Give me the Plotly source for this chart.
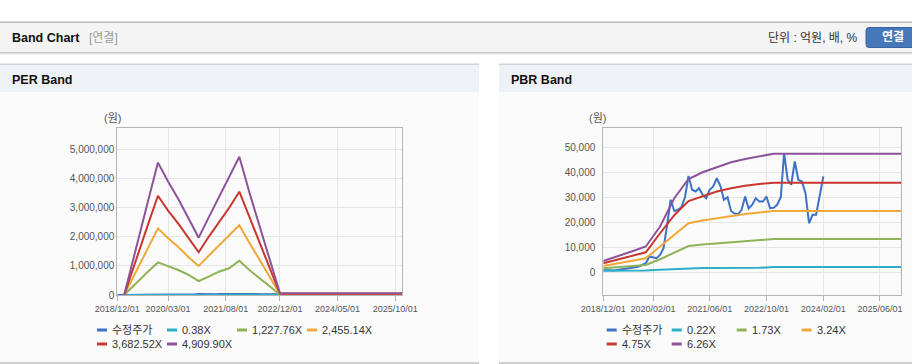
import pandas as pd
import plotly.graph_objects as go

# ---------------- data ----------------
# adjusted share price (수정주가), monthly from 2018/12 to 2024/02
price = [800, 900, 800, 700, 900, 1000, 1200, 1500, 1800, 2000, 2300, 2800,
         3600, 6300, 5900, 5600, 6900, 9600, 19000, 29000, 24500, 25000, 26000, 30000,
         38500, 33000, 32300, 33600, 31000, 29600, 33000, 34300, 37600, 34500, 29000, 30000,
         24500, 23500, 23200, 25000, 30300, 25500, 27000, 29600, 28300, 28300, 30300, 25600,
         25800, 27000, 30000, 47600, 37000, 35000, 44300, 37000, 36300, 31600, 19600, 23000,
         23000, 30300, 38300]
price_start = "2018-12-01"

# PER band
per_dates = ["2019-02-01", "2019-06-01", "2019-09-01", "2019-12-01", "2020-03-01", "2020-06-01",
             "2020-09-01", "2020-12-01", "2021-03-01", "2021-06-01", "2021-09-01", "2021-12-01",
             "2022-03-01", "2022-06-01", "2022-09-01", "2022-12-01", "2025-12-01"]
per_names = ["수정주가", "0.38X", "1,227.76X", "2,455.14X", "3,682.52X", "4,909.90X"]
per_b1 = [0, 145, 250, 350, 300, 255, 205, 150, 205, 260, 315, 365, 270, 185, 95, 5, 5]
per_b2 = [0, 460000, 800000, 1120000, 1000000, 860000, 690000, 480000, 630000, 800000, 920000,
          1180000, 860000, 570000, 310000, 14000, 14000]
per_b3 = [0, 920000, 1600000, 2290000, 1950000, 1650000, 1300000, 1000000, 1350000, 1700000,
          2050000, 2400000, 1800000, 1200000, 600000, 29000, 29000]
per_b4 = [0, 1400000, 2400000, 3410000, 2900000, 2450000, 1950000, 1470000, 2000000, 2500000,
          3000000, 3550000, 2700000, 1800000, 900000, 43000, 43000]
per_b5 = [0, 1850000, 3200000, 4550000, 3900000, 3300000, 2630000, 1970000, 2670000, 3370000,
          4090000, 4750000, 3530000, 2380000, 1200000, 57000, 57000]

# PBR band
pbr_dates = ["2018-12-01", "2019-04-01", "2019-08-01", "2019-12-01", "2020-04-01", "2020-08-01",
             "2020-12-01", "2021-04-01", "2021-08-01", "2021-12-01", "2022-04-01", "2022-08-01",
             "2022-12-01", "2025-12-01"]
pbr_names = ["수정주가", "0.22X", "1.73X", "3.24X", "4.75X", "6.26X"]
pbr_b1 = [600, 600, 600, 700, 1000, 1300, 1600, 1650, 1700, 1700, 1700, 1750, 2100, 2100]
pbr_b2 = [1600, 2000, 2500, 2900, 5200, 7900, 10500, 11100, 11600, 12100, 12500, 12900, 13300, 13300]
pbr_b3 = [2500, 3500, 4500, 5600, 10300, 15000, 19600, 20700, 21600, 22600, 23300, 23900, 24500, 24500]
pbr_b4 = [3600, 5000, 6500, 8000, 15600, 22800, 28500, 30500, 32300, 33600, 34600, 35300, 35800, 35800]
pbr_b5 = [4500, 6300, 8300, 10300, 18300, 29600, 37300, 40000, 41900, 44000, 45300, 46300, 47400, 47400]

per_tickvals = ["2018-12-01", "2020-03-01", "2021-08-01", "2022-12-01", "2024-05-01", "2025-10-01"]
per_ticktext = ["2018/12/01", "2020/03/01", "2021/08/01", "2022/12/01", "2024/05/01", "2025/10/01"]
pbr_tickvals = ["2018-12-01", "2020-02-01", "2021-06-01", "2022-10-01", "2024-02-01", "2025-06-01"]
pbr_ticktext = ["2018/12/01", "2020/02/01", "2021/06/01", "2022/10/01", "2024/02/01", "2025/06/01"]

colors = ["#3b73c6", "#2eaec5", "#8fb356", "#f1a83a", "#c8372d", "#8c539b"]

# ---------------- figure ----------------
W, H = 912, 364
def X(px):
    return px / W
def Y(py):
    return 1 - py / H

FONT = "Liberation Sans, 'Noto Sans CJK KR', sans-serif"
price_dates = pd.date_range(price_start, periods=len(price), freq="MS")

fig = go.Figure()

per_bands = [per_b1, per_b2, per_b3, per_b4, per_b5]
pbr_bands = [pbr_b1, pbr_b2, pbr_b3, pbr_b4, pbr_b5]

fig.add_trace(go.Scatter(x=price_dates, y=price, mode="lines", name=per_names[0],
                         line=dict(color=colors[0], width=2), xaxis="x", yaxis="y", showlegend=False))
for i, b in enumerate(per_bands):
    fig.add_trace(go.Scatter(x=per_dates, y=b, mode="lines", name=per_names[i + 1],
                             line=dict(color=colors[i + 1], width=2), xaxis="x", yaxis="y",
                             showlegend=False))

fig.add_trace(go.Scatter(x=price_dates, y=price, mode="lines", name=pbr_names[0],
                         line=dict(color=colors[0], width=2), xaxis="x2", yaxis="y2", showlegend=False))
for i, b in enumerate(pbr_bands):
    fig.add_trace(go.Scatter(x=pbr_dates, y=b, mode="lines", name=pbr_names[i + 1],
                             line=dict(color=colors[i + 1], width=2), xaxis="x2", yaxis="y2",
                             showlegend=False))

axis_common = dict(showline=True, mirror=True, linecolor="#b4b4b4", linewidth=1,
                   showgrid=True, gridcolor="#e6e6e6", zeroline=False, automargin=False)

xcommon = dict(axis_common, type="date", range=["2018-12-01", "2025-12-01"],
               ticks="outside", ticklen=5, tickcolor="#b4b4b4",
               tickfont=dict(family=FONT, size=9, color="#555"))
ycommon = dict(axis_common, tickformat=",d", tickfont=dict(family=FONT, size=10, color="#555"))

fig.update_layout(
    width=W, height=H, autosize=False,
    margin=dict(l=0, r=0, t=0, b=0, pad=0, autoexpand=False),
    paper_bgcolor="white",
    plot_bgcolor="rgba(0,0,0,0)",
    showlegend=False,
    font=dict(family=FONT, color="#333"),
    xaxis=dict(xcommon, domain=[X(117.3), X(402)], tickvals=per_tickvals, ticktext=per_ticktext,
               anchor="y"),
    yaxis=dict(ycommon, domain=[Y(295), Y(128)], range=[0, 5740000],
               tickvals=[0, 1000000, 2000000, 3000000, 4000000, 5000000], anchor="x"),
    xaxis2=dict(xcommon, domain=[X(603.3), X(901.3)], tickvals=pbr_tickvals, ticktext=pbr_ticktext,
                anchor="y2"),
    yaxis2=dict(ycommon, domain=[Y(295), Y(128)], range=[-9100, 57700],
                tickvals=[0, 10000, 20000, 30000, 40000, 50000], anchor="x2", ticklabelstandoff=5),
)

shapes = []
def rect(x0, x1, y0, y1, color):
    shapes.append(dict(type="rect", xref="paper", yref="paper", x0=X(x0), x1=X(x1),
                       y0=Y(y1), y1=Y(y0), fillcolor=color, line=dict(width=0), layer="below"))

# header bar
rect(0, 912, 21.5, 23, "#b9b9b9")
rect(0, 912, 23, 52, "#f4f4f4")
rect(0, 912, 52, 53, "#c6c6c6")
rect(0, 912, 53, 54.5, "#e3e3e3")
# panels
for (a, b) in [(0, 479), (499, 912)]:
    rect(a, b, 63.5, 65, "#d4d4d4")
    rect(a, b, 65, 92.5, "#eef1f6")
    rect(a, b, 92.5, 362, "#fbfbfb")
    rect(a, b, 362, 364, "#cfcfcf")

# button (rounded)
bx0, bx1, by0, by1, r = 866, 918, 27.5, 47.5, 3
path = (f"M {X(bx0 + r)},{Y(by0)} L {X(bx1 - r)},{Y(by0)} Q {X(bx1)},{Y(by0)} {X(bx1)},{Y(by0 + r)} "
        f"L {X(bx1)},{Y(by1 - r)} Q {X(bx1)},{Y(by1)} {X(bx1 - r)},{Y(by1)} "
        f"L {X(bx0 + r)},{Y(by1)} Q {X(bx0)},{Y(by1)} {X(bx0)},{Y(by1 - r)} "
        f"L {X(bx0)},{Y(by0 + r)} Q {X(bx0)},{Y(by0)} {X(bx0 + r)},{Y(by0)} Z")
shapes.append(dict(type="path", xref="paper", yref="paper", path=path, fillcolor="#4678b9",
                   line=dict(color="#3865a3", width=1), layer="above"))

annotations = []
def text(x, y, s, size=12, color="#333", bold=False, xanchor="left"):
    if bold:
        s = f"<b>{s}</b>"
    annotations.append(dict(x=X(x), y=Y(y), xref="paper", yref="paper", text=s, showarrow=False,
                            xanchor=xanchor, yanchor="middle",
                            font=dict(family=FONT, size=size, color=color)))

text(10, 38, "Band Chart", size=12.5, color="#111", bold=True)
text(87, 38, "[연결]", size=12, color="#9a9a9a")
text(860, 38, "단위 : 억원, 배, %", size=12, color="#333", xanchor="right")
text(892.5, 37.5, "연결", size=12, color="white", bold=True, xanchor="center")
text(10, 80, "PER Band", size=12.5, color="#111", bold=True)
text(509, 80, "PBR Band", size=12.5, color="#111", bold=True)
text(112.5, 118, "(원)", size=11, color="#555", xanchor="center")
text(597.5, 118, "(원)", size=11, color="#555", xanchor="center")

# custom legends
def legend(names, xs, rows):
    for i, name in enumerate(names):
        lx = xs[i % 4]
        ly = rows[i // 4]
        shapes.append(dict(type="line", xref="paper", yref="paper", x0=X(lx), x1=X(lx + 10),
                           y0=Y(ly), y1=Y(ly), line=dict(color=colors[i], width=3)))
        text(lx + 13, ly, name, size=11, color="#333")

legend(per_names, [97, 167, 237, 307], [330, 344])
legend(pbr_names, [606.7, 671.7, 736.7, 801.7], [330, 344])

fig.update_layout(shapes=shapes, annotations=annotations)
fig.write_html("out.html", config={"displayModeBar": False},
               post_script="document.body.style.margin='0px';document.body.style.overflow='hidden';")
